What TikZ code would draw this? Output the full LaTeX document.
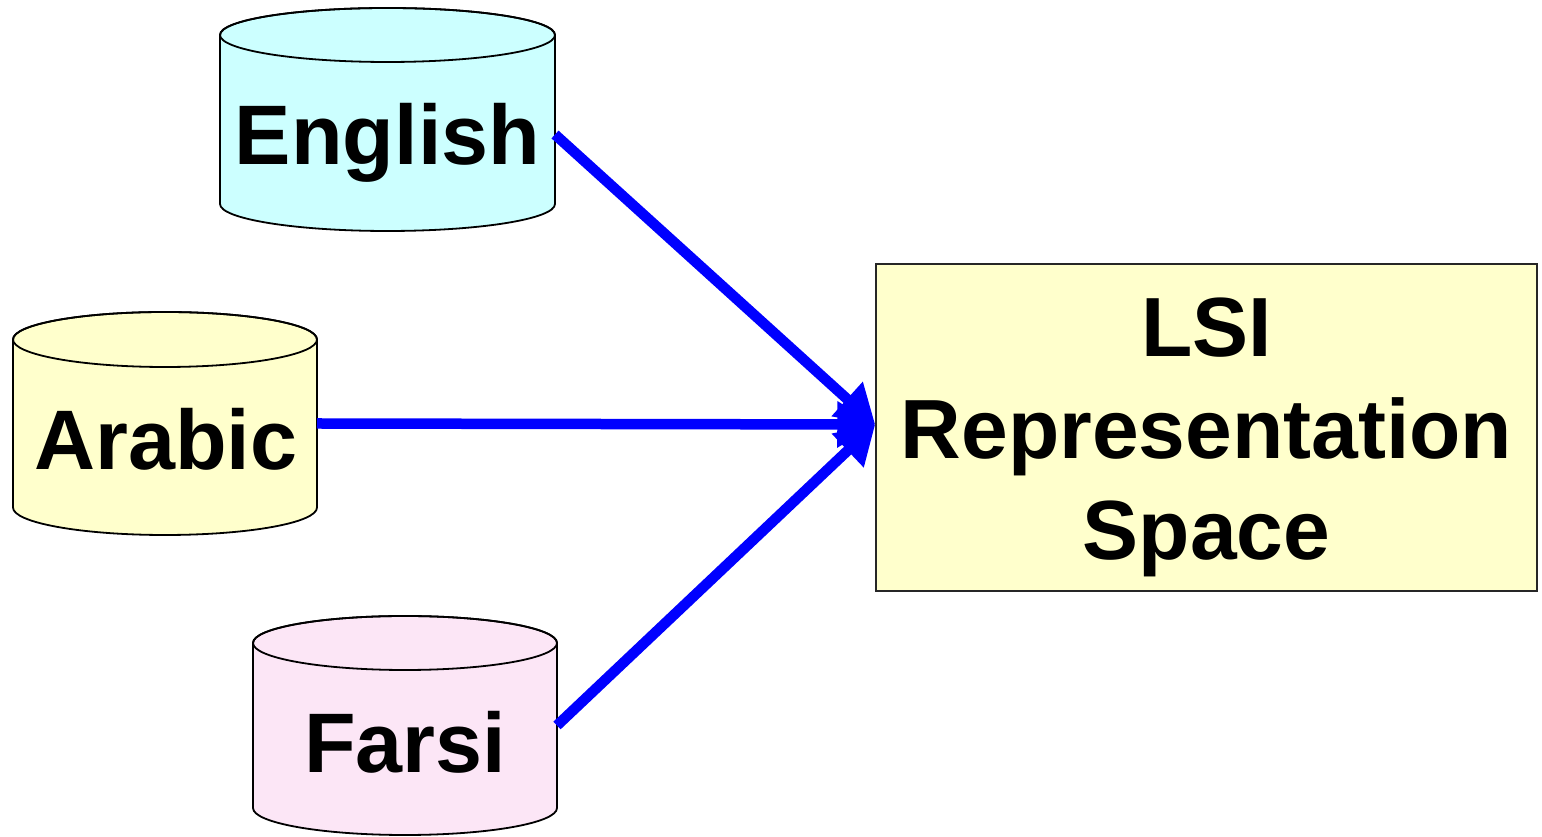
\documentclass[tikz,border=0pt]{standalone}
\usepackage{fontspec}
\setmainfont{Liberation Sans}
\usetikzlibrary{arrows.meta}
\definecolor{cyanfill}{RGB}{204,255,255}
\definecolor{yellowfill}{RGB}{255,255,204}
\definecolor{pinkfill}{RGB}{252,230,246}
\definecolor{arrowblue}{RGB}{0,0,255}
\newcommand\drawcylinder[4]{%
  \filldraw[cylline, fill=#2] (#1.north west) -- (#1.south west)
    arc[start angle=180, end angle=360, x radius=#3, y radius=#4]
    -- (#1.north east)
    arc[start angle=0, end angle=180, x radius=#3, y radius=#4] -- cycle;
  \draw[cylline] (#1.north) ellipse[x radius=#3, y radius=#4];
}
\begin{document}
\begin{tikzpicture}[x=1pt, y=1pt,
  cylline/.style={line width=1.8pt, draw=black},
  body/.style={inner sep=0pt, outer sep=0pt},
  lab/.style={inner sep=0pt, outer sep=0pt, font=\fontsize{84.5}{100}\selectfont\bfseries,
    text height=61pt, text depth=0pt},
  lsibox/.style={draw=black!85, line width=1.5pt, fill=yellowfill, inner sep=0pt,
    minimum width=661pt, minimum height=327pt},
  lsitext/.style={inner sep=0pt, align=center, font=\fontsize{84}{101.5}\selectfont\bfseries},
  arr/.style={draw=arrowblue, line width=10.5pt, -{Triangle[length=38pt, width=44pt]}}
]
\useasboundingbox (0,0) rectangle (1542,837);

% cylinders (body nodes span from top ellipse centre to bottom ellipse centre)
\node[body, minimum width=335pt, minimum height=169pt] (eng) at (387.5,717.5) {};
\node[body, minimum width=304pt, minimum height=168pt] (ara) at (165,413.5) {};
\node[body, minimum width=304pt, minimum height=165pt] (far) at (405,111.5) {};

\drawcylinder{eng}{cyanfill}{167.5}{27}
\drawcylinder{ara}{yellowfill}{152}{27.5}
\drawcylinder{far}{pinkfill}{152}{27}

\node[lab] (engt) at (387.5,703) {English};
\node[lab] (arat) at (166,398) {Arabic};
\node[lab] (fart) at (405,95) {Farsi};

% target box
\node[lsibox] (lsi) at (1206.5,409.5) {};
\node[lsitext] (lsit) at (1206.5,399.5) {LSI\\Representation\\Space};

% connectors
\draw[arr] ([yshift=-15pt]eng.east) -- ([yshift=3pt]lsi.west);
\draw[arr] (ara.east) -- ([yshift=3pt]lsi.west);
\draw[arr] (far.east) -- ([yshift=3pt]lsi.west);
\end{tikzpicture}
\end{document}
